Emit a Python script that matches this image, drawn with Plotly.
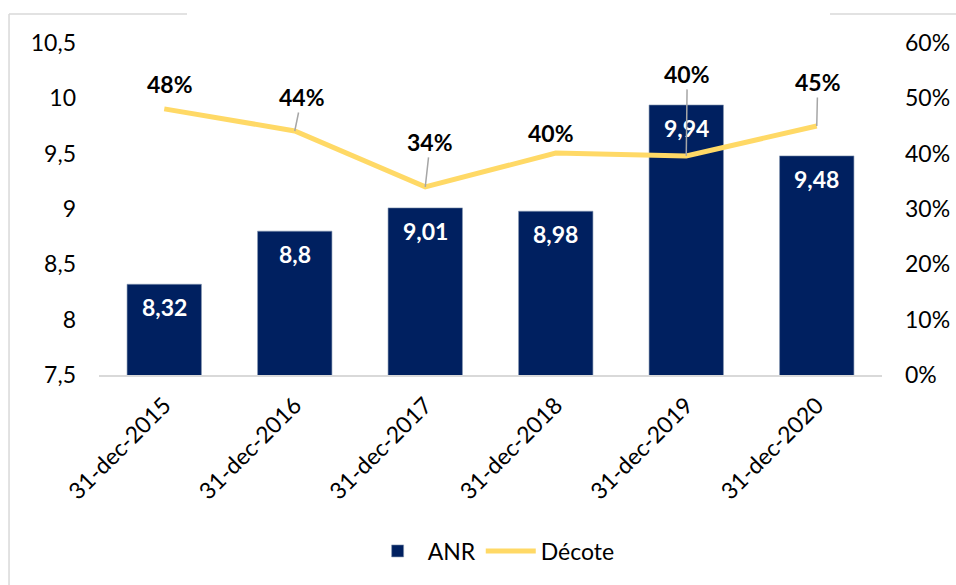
import plotly.graph_objects as go

categories = ["31-dec-2015", "31-dec-2016", "31-dec-2017", "31-dec-2018", "31-dec-2019", "31-dec-2020"]
anr = [8.32, 8.8, 9.01, 8.98, 9.94, 9.48]
decote = [0.481, 0.441, 0.340, 0.401, 0.396, 0.450]
left_ticks = [7.5, 8, 8.5, 9, 9.5, 10, 10.5]
right_ticks = [0, 0.1, 0.2, 0.3, 0.4, 0.5, 0.6]

FONT = "Lato"
BAR_COLOR = "#002060"
LINE_COLOR = "#FFD966"
GRAY = "#D9D9D9"

fig = go.Figure()
fig.add_trace(go.Bar(x=categories, y=anr, name="ANR", marker=dict(color=BAR_COLOR, line=dict(color="#8497B0", width=0.6)),
                     hoverinfo="skip"))
fig.add_trace(go.Scatter(x=categories, y=decote, name="Décote", yaxis="y2", mode="lines",
                         line=dict(color=LINE_COLOR, width=5), hoverinfo="skip"))

annotations = []
# bar value labels
for c, v in zip(categories, anr):
    annotations.append(dict(x=c, y=v, xref="x", yref="y", text=f"<b>{str(v).replace('.', ',')}</b>",
                            showarrow=False, yshift=-23, font=dict(family=FONT, size=23, color="white")))

# percent labels: (ax, ay, leader)
label_offsets = [(6, -25, False), (7, -34, True), (5, -45, True), (-5, -20, False), (1, -82, True), (1, -44, True)]
for c, v, (ax, ay, lead) in zip(categories, decote, label_offsets):
    txt = f"<b>{round(v * 100)}%</b>"
    if lead:
        annotations.append(dict(x=c, y=v, xref="x", yref="y2", text=txt, showarrow=True, arrowhead=0,
                                arrowwidth=1.5, arrowcolor="#A6A6A6", ax=ax, ay=ay,
                                font=dict(family=FONT, size=23, color="black")))
    else:
        annotations.append(dict(x=c, y=v, xref="x", yref="y2", text=txt, showarrow=False,
                                xshift=ax, yshift=-ay, font=dict(family=FONT, size=23, color="black")))

shapes = [
    dict(type="line", xref="paper", yref="paper", x0=-0.1149, x1=-0.1149, y0=1.0873, y1=-0.64,
         line=dict(color=GRAY, width=1.5)),
    dict(type="line", xref="paper", yref="paper", x0=-0.1149, x1=0.1124, y0=1.0873, y1=1.0873,
         line=dict(color=GRAY, width=1.5)),
    dict(type="line", xref="paper", yref="paper", x0=0.9336, x1=1.1, y0=1.0873, y1=1.0873,
         line=dict(color=GRAY, width=1.5)),
]

fig.update_layout(
    width=956, height=585,
    margin=dict(l=99, r=74, t=43, b=210, autoexpand=False),
    paper_bgcolor="white", plot_bgcolor="white",
    separators=", ",
    font=dict(family=FONT, size=23, color="black"),
    bargap=0.43,
    showlegend=True,
    legend=dict(orientation="h", x=0.504, xanchor="center", y=-0.53, yanchor="middle",
                font=dict(family=FONT, size=23, color="black"), itemwidth=50, traceorder="normal"),
    xaxis=dict(showgrid=False, showline=True, linecolor=GRAY, linewidth=1.5, ticks="",
               tickangle=-45, tickfont=dict(family=FONT, size=23, color="black"), ticklabelstandoff=6),
    yaxis=dict(range=[7.5, 10.5], tickvals=left_ticks, showgrid=False, zeroline=False, showline=False,
               ticks="", tickfont=dict(family=FONT, size=23, color="black"), ticklabelstandoff=22),
    yaxis2=dict(range=[0, 0.6], tickvals=right_ticks, tickformat=".0%", overlaying="y", side="right",
                showgrid=False, zeroline=False, showline=False, ticks="",
                tickfont=dict(family=FONT, size=23, color="black"), ticklabelstandoff=22),
    annotations=annotations,
    shapes=shapes,
)

fig.write_html("out.html", config={"displayModeBar": False},
               post_script="document.body.style.margin='0';document.body.style.overflow='hidden';")
